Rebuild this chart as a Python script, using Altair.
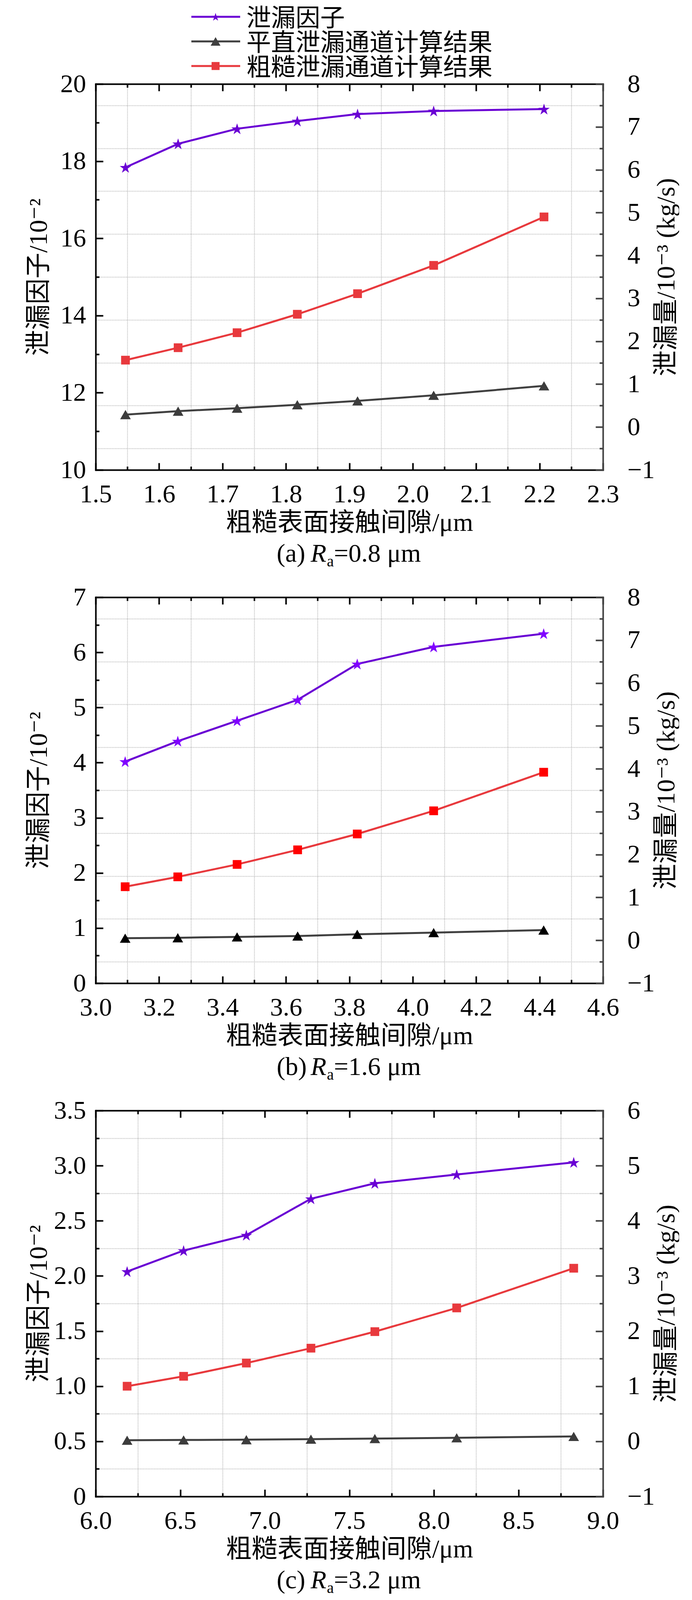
import altair as alt
import pandas as pd

# ---------------- data ----------------
X_A = [1.547, 1.630, 1.723, 1.818, 1.913, 2.033, 2.207]
FACTOR_A = [17.84, 18.45, 18.84, 19.04, 19.22, 19.30, 19.35]
ROUGH_A = [1.56, 1.85, 2.20, 2.63, 3.11, 3.77, 4.90]
FLAT_A = [0.29, 0.37, 0.44, 0.52, 0.61, 0.74, 0.96]

X_B = [3.093, 3.259, 3.446, 3.637, 3.825, 4.066, 4.413]
FACTOR_B = [4.02, 4.39, 4.76, 5.14, 5.79, 6.10, 6.34]
ROUGH_B = [1.25, 1.48, 1.77, 2.11, 2.48, 3.02, 3.92]
FLAT_B = [0.05, 0.06, 0.08, 0.10, 0.14, 0.18, 0.24]

X_C = [6.186, 6.520, 6.891, 7.273, 7.651, 8.135, 8.827]
FACTOR_C = [2.04, 2.23, 2.37, 2.70, 2.84, 2.92, 3.03]
ROUGH_C = [1.00, 1.18, 1.42, 1.69, 1.99, 2.42, 3.14]
FLAT_C = [0.02, 0.025, 0.03, 0.04, 0.05, 0.065, 0.09]

SERIES = ["泄漏因子", "平直泄漏通道计算结果", "粗糙泄漏通道计算结果"]
X_TITLE = "粗糙表面接触间隙/μm"
YL_TITLE = "泄漏因子/10⁻²"
YR_TITLE = "泄漏量/10⁻³ (kg/s)"
PANEL_TAGS = ["(a)", "(b)", "(c)"]
RA_SYMBOL = ["R", "a"]
RA_VALUES = ["=0.8 μm", "=1.6 μm", "=3.2 μm"]

# axis ranges and tick values
X_DOM = [[1.5, 2.3], [3.0, 4.6], [6.0, 9.0]]
X_MAJ = [[1.5, 1.6, 1.7, 1.8, 1.9, 2.0, 2.1, 2.2, 2.3],
         [3.0, 3.2, 3.4, 3.6, 3.8, 4.0, 4.2, 4.4, 4.6],
         [6.0, 6.5, 7.0, 7.5, 8.0, 8.5, 9.0]]
X_MIN = [[1.55, 1.65, 1.75, 1.85, 1.95, 2.05, 2.15, 2.25],
         [3.1, 3.3, 3.5, 3.7, 3.9, 4.1, 4.3, 4.5],
         [6.25, 6.75, 7.25, 7.75, 8.25, 8.75]]
YL_DOM = [[10, 20], [0, 7], [0, 3.5]]
YL_MAJ = [[10, 12, 14, 16, 18, 20],
          [0, 1, 2, 3, 4, 5, 6, 7],
          [0, 0.5, 1.0, 1.5, 2.0, 2.5, 3.0, 3.5]]
YL_MIN = [[11, 13, 15, 17, 19],
          [0.5, 1.5, 2.5, 3.5, 4.5, 5.5, 6.5],
          [0.25, 0.75, 1.25, 1.75, 2.25, 2.75, 3.25]]
YL_EXPR = ["format(datum.value, 'd')", "format(datum.value, 'd')",
           "datum.value == 0 ? '0' : format(datum.value, '.1f')"]
YR_DOM = [[-1, 8], [-1, 8], [-1, 6]]
YR_MAJ = [[-1, 0, 1, 2, 3, 4, 5, 6, 7, 8],
          [-1, 0, 1, 2, 3, 4, 5, 6, 7, 8],
          [-1, 0, 1, 2, 3, 4, 5, 6]]
YR_MIN = [[-0.5, 0.5, 1.5, 2.5, 3.5, 4.5, 5.5, 6.5, 7.5],
          [-0.5, 0.5, 1.5, 2.5, 3.5, 4.5, 5.5, 6.5, 7.5],
          [-0.5, 0.5, 1.5, 2.5, 3.5, 4.5, 5.5]]

# ---------------- style ----------------
W, H = 1299, 988
SERIF = "Liberation Serif"
MIXED = "Liberation Serif, DejaVu Serif, Noto Sans CJK SC"
GRID = "#b4b4b4"
DARK = "#404040"
STAR = ("M0,-0.905L0.225,-0.214L0.951,-0.214L0.363,0.214L0.588,0.905L0,0.478"
        "L-0.588,0.905L-0.363,0.214L-0.951,-0.214L-0.225,-0.214Z")
LINE_COLORS = {"star": "#6a00d4", "tri": "#404040", "sq": "#e8393d"}
MARK_COLORS = [
    {"star": "#6a00d4", "tri": "#3c3c3c", "sq": "#e8393d"},
    {"star": "#8000ff", "tri": "#000000", "sq": "#ff0000"},
    {"star": "#6a00d4", "tri": "#3c3c3c", "sq": "#e8393d"},
]


def plain_axis(**kw):
    base = dict(labels=False, ticks=False, domain=False, grid=False, title=None)
    base.update(kw)
    return alt.Axis(**base)


def tick_axis(orient, values, size, color):
    return plain_axis(orient=orient, values=values, ticks=True, tickSize=size,
                      tickWidth=4, tickColor=color, offset=-size)


LABEL_STYLE = dict(labelFont=SERIF, labelFontSize=66, labelColor="black",
                   labelFlush=False, labelOverlap=False, labelBound=False,
                   titleFont=MIXED, titleFontSize=66, titleFontWeight="normal",
                   titleColor="black", grid=False, ticks=False, tickSize=0,
                   domain=True, domainWidth=4, domainCap="square")


def text_layer(txt, x, y, size=66, style="normal", align="left", font=SERIF,
               baseline="alphabetic"):
    return alt.Chart(pd.DataFrame({"t": [txt]})).mark_text(
        font=font, fontSize=size, fontStyle=style, align=align,
        baseline=baseline, color="black"
    ).encode(x=alt.value(x), y=alt.value(y), text="t:N")


def panel(i, xv, fac, flat, rough, with_legend=False):
    df = pd.DataFrame({"x": xv, "factor": fac, "flat": flat, "rough": rough})
    xs = alt.Scale(domain=X_DOM[i], nice=False, zero=False)
    yl = alt.Scale(domain=YL_DOM[i], nice=False, zero=False)
    yr = alt.Scale(domain=YR_DOM[i], nice=False, zero=False)
    mc = MARK_COLORS[i]

    def X(ax):
        return alt.X("x:Q", scale=xs, axis=ax)

    def L(ax):
        return alt.Y("factor:Q", scale=yl, axis=ax)

    def R(field, ax):
        return alt.Y(field + ":Q", scale=yr, axis=ax)

    x_label = alt.Axis(orient="bottom", values=X_MAJ[i], format=".1f",
                       labelPadding=82, labelBaseline="alphabetic",
                       domainColor="black", title=X_TITLE, titleX=W / 2,
                       titleY=155, titleAlign="center",
                       titleBaseline="alphabetic", **LABEL_STYLE)
    yl_label = alt.Axis(orient="left", values=YL_MAJ[i], labelExpr=YL_EXPR[i],
                        labelPadding=25, labelBaseline="middle",
                        domainColor="black", title=YL_TITLE, titleAngle=270,
                        titleX=-146, titleY=H / 2, titleAlign="center",
                        titleBaseline="middle", **LABEL_STYLE)
    yr_label = alt.Axis(orient="right", values=YR_MAJ[i], format="d",
                        labelPadding=62, labelBaseline="middle",
                        domainColor=DARK, title=YR_TITLE, titleAngle=270,
                        titleX=162, titleY=H / 2, titleAlign="center",
                        titleBaseline="middle", **LABEL_STYLE)
    x_grid = plain_axis(orient="bottom", values=X_MIN[i], grid=True,
                        gridColor=GRID, gridDash=[2, 2], gridWidth=2)
    yr_grid = plain_axis(orient="right", values=YR_MIN[i], grid=True,
                         gridColor=GRID, gridDash=[2, 2], gridWidth=2)
    top_domain = plain_axis(orient="top", domain=True, domainColor="black",
                            domainWidth=4, domainCap="square")

    base = alt.Chart(df)
    layers = [
        base.mark_line(color=LINE_COLORS["sq"], strokeWidth=5).encode(
            x=X(x_grid), y=R("rough", yr_label)),
        base.mark_line(color=LINE_COLORS["tri"], strokeWidth=5).encode(
            x=X(tick_axis("bottom", X_MAJ[i], 18, "black")),
            y=R("flat", tick_axis("right", YR_MAJ[i], 19, DARK))),
        base.mark_line(color=LINE_COLORS["star"], strokeWidth=5).encode(
            x=X(x_label), y=L(yl_label)),
        base.mark_point(shape="square", filled=True, size=500, opacity=1,
                        color=mc["sq"]).encode(
            x=X(tick_axis("bottom", X_MIN[i], 9, "black")),
            y=R("rough", tick_axis("right", YR_MIN[i], 9, DARK))),
        base.mark_point(shape="triangle-up", filled=True, size=740, opacity=1,
                        color=mc["tri"]).encode(
            x=X(tick_axis("top", X_MAJ[i], 18, "black")),
            y=R("flat", yr_grid)),
        base.mark_point(shape=STAR, filled=True, size=950, opacity=1,
                        color=mc["star"]).encode(
            x=X(tick_axis("top", X_MIN[i], 9, "black")),
            y=L(tick_axis("left", YL_MAJ[i], 19, "black"))),
        base.mark_point(opacity=0).encode(
            x=X(top_domain),
            y=L(tick_axis("left", YL_MIN[i], 9, "black"))),
    ]

    # caption: (a) R_a=0.8 μm
    cy = H + 235
    layers += [
        text_layer(PANEL_TAGS[i], 463.5, cy),
        text_layer(RA_SYMBOL[0], 550.5, cy, style="italic"),
        text_layer(RA_SYMBOL[1], 592, cy + 12, size=40),
        text_layer(RA_VALUES[i], 610, cy),
    ]

    if with_legend:
        rows = [("star", STAR, 480), ("tri", "triangle-up", 640), ("sq", "square", 420)]
        ys = [-167, -104, -41]
        for (key, shape, size), name, yy in zip(rows, SERIES, ys):
            d = pd.DataFrame({"s": [name]})
            layers.append(alt.Chart(d).mark_rule(color=LINE_COLORS[key], strokeWidth=5)
                          .encode(x=alt.value(245), x2=alt.value(370), y=alt.value(yy - 5)))
            layers.append(alt.Chart(d).mark_point(shape=shape, filled=True, size=size,
                                                  opacity=1, color=LINE_COLORS[key])
                          .encode(x=alt.value(307), y=alt.value(yy - 5)))
            layers.append(alt.Chart(d).mark_text(font=MIXED, fontSize=63, align="left",
                                                 baseline="middle", color="black")
                          .encode(x=alt.value(386), y=alt.value(yy), text="s:N"))
        # invisible spacer fixing the top-left corner of the page layout
        layers.append(alt.Chart(pd.DataFrame({"s": [""]})).mark_rule(strokeOpacity=0)
                      .encode(x=alt.value(-237), x2=alt.value(-236), y=alt.value(-207)))

    return (alt.layer(*layers)
            .resolve_scale(y="independent")
            .resolve_axis(x="independent", y="independent")
            .properties(width=W, height=H))


pa = panel(0, X_A, FACTOR_A, FLAT_A, ROUGH_A, with_legend=True)
pb = panel(1, X_B, FACTOR_B, FLAT_B, ROUGH_B)
pc = panel(2, X_C, FACTOR_C, FLAT_C, ROUGH_C)

chart = (alt.vconcat(pa, pb, pc, spacing=38)
         .properties(padding=0, background="white")
         .configure_view(strokeWidth=0))

chart.save("out.html", embed_options={"renderer": "svg", "actions": False})
